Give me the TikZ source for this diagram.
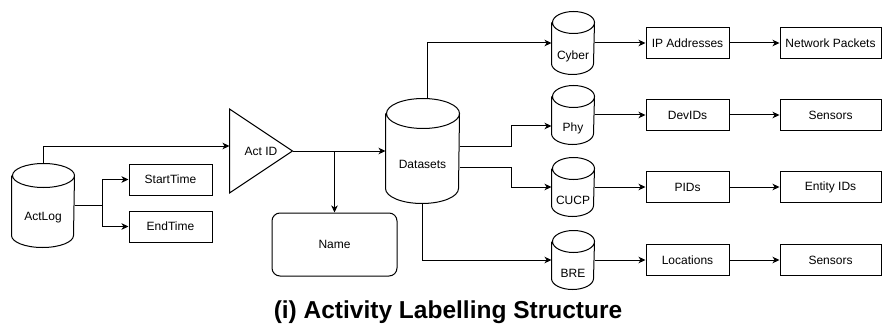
\documentclass[tikz,border=0pt]{standalone}
\usepackage{fontspec}
\setmainfont{Liberation Sans}
\usetikzlibrary{arrows.meta,calc}
\tikzset{
  base/.style={font=\fontsize{12}{14}\selectfont, inner sep=0pt, line width=1pt},
  box/.style={base, draw, minimum width=83pt, minimum height=31pt},
  widebox/.style={box, minimum width=101pt},
  roundbox/.style={base, draw, rounded corners=8pt, minimum width=125pt, minimum height=63pt},
  cylbox/.style={base, draw=none, minimum width=#1},
  lbl/.style={font=\fontsize{12}{14}\selectfont, inner sep=0pt},
  conn/.style={line width=1pt},
  arr/.style={conn, -{Stealth[length=7pt,width=6.5pt,inset=2pt]}},
  titletext/.style={font=\fontsize{24.5}{28}\selectfont\bfseries, inner sep=0pt}
}
\newcommand\drawmycyl[3]{% name, x radius, y radius
  \draw[line width=1pt] ([yshift=-#3pt]#1.north west) -- ([yshift=#3pt]#1.south west)
    arc[start angle=180,end angle=360,x radius=#2pt,y radius=#3pt]
    -- ([yshift=-#3pt]#1.north east)
    arc[start angle=0,end angle=180,x radius=#2pt,y radius=#3pt]
    arc[start angle=180,end angle=360,x radius=#2pt,y radius=#3pt];
}
\begin{document}
\begin{tikzpicture}[x=1pt,y=1pt]
\useasboundingbox (0,0) rectangle (882,327);

% ActLog cylinder
\node[cylbox=62pt, minimum height=83pt] (ActLog) at (43,121.5) {};
\drawmycyl{ActLog}{31}{12}
\node[lbl] (ActLogT) at ([yshift=-12.5pt]ActLog.center) {ActLog};

\node[box] (StartTime) at (170.5,147.5) {StartTime};
\node[box] (EndTime) at (170.5,100.5) {EndTime};

% Act ID triangle
\node[base, minimum width=62pt, minimum height=83pt] (ActID) at (261,176) {Act ID};
\draw[line width=1pt] (ActID.north west) -- (ActID.east) -- (ActID.south west) -- cycle;

\node[roundbox] (Name) at (334.5,82.5) {Name};

% Datasets cylinder
\node[cylbox=73pt, minimum height=104pt] (Datasets) at (422.5,176) {};
\drawmycyl{Datasets}{36.5}{15}
\node[lbl] (DatasetsT) at ([yshift=-13pt]Datasets.center) {Datasets};

% small cylinders
\node[cylbox=42pt, minimum height=62pt] (Cyber) at (573,284) {};
\drawmycyl{Cyber}{21}{11}
\node[lbl] (CyberT) at ([yshift=-13pt]Cyber.center) {Cyber};

\node[cylbox=42pt, minimum height=58pt] (Phy) at (573,212) {};
\drawmycyl{Phy}{21}{11}
\node[lbl] (PhyT) at ([yshift=-13pt]Phy.center) {Phy};

\node[cylbox=42pt, minimum height=58pt] (CUCP) at (573,140) {};
\drawmycyl{CUCP}{21}{11}
\node[lbl] (CUCPT) at ([yshift=-13pt]CUCP.center) {CUCP};

\node[cylbox=42pt, minimum height=58pt] (BRE) at (573,67) {};
\drawmycyl{BRE}{21}{11}
\node[lbl] (BRET) at ([yshift=-13pt]BRE.center) {BRE};

% right boxes
\node[box] (IP) at (687.5,284) {IP Addresses};
\node[widebox] (NP) at (830.5,284) {Network Packets};
\node[box] (DevIDs) at (687.5,212) {DevIDs};
\node[widebox] (SensorsA) at (830.5,212) {Sensors};
\node[box] (PIDs) at (687.5,140) {PIDs};
\node[widebox] (EntityIDs) at (830.5,140) {Entity IDs};
\node[box] (Locations) at (687.5,67) {Locations};
\node[widebox] (SensorsB) at (830.5,67) {Sensors};

% connectors
\draw[arr] (ActLog.north) |- ([yshift=5pt]ActID.west);
\draw[arr] (ActLog.east) -- ++(28,0) |- (StartTime.west);
\draw[arr] (ActLog.east) -- ++(28,0) |- (EndTime.west);
\draw[arr] (ActID.east) -- (Datasets.west);
\draw[arr] (ActID.east -| Name.north) -- (Name.north);
\draw[arr] ([xshift=5pt]Datasets.north) |- (Cyber.west);
\draw[arr] ([yshift=5pt]Datasets.east) -- ++(52,0) |- ([yshift=-11pt]Phy.west);
\draw[arr] ([yshift=-16pt]Datasets.east) -- ++(52,0) |- (CUCP.west);
\draw[arr] (Datasets.south) |- (BRE.west);

\draw[arr] (Cyber.east) -- (IP.west);
\draw[arr] (IP.east) -- (NP.west);
\draw[arr] (Phy.east) -- (DevIDs.west);
\draw[arr] (DevIDs.east) -- (SensorsA.west);
\draw[arr] (CUCP.east) -- (PIDs.west);
\draw[arr] (PIDs.east) -- (EntityIDs.west);
\draw[arr] (BRE.east) -- (Locations.west);
\draw[arr] (Locations.east) -- (SensorsB.west);

\node[titletext] (Title) at (448,15) {(i) Activity Labelling Structure};
\end{tikzpicture}
\end{document}
